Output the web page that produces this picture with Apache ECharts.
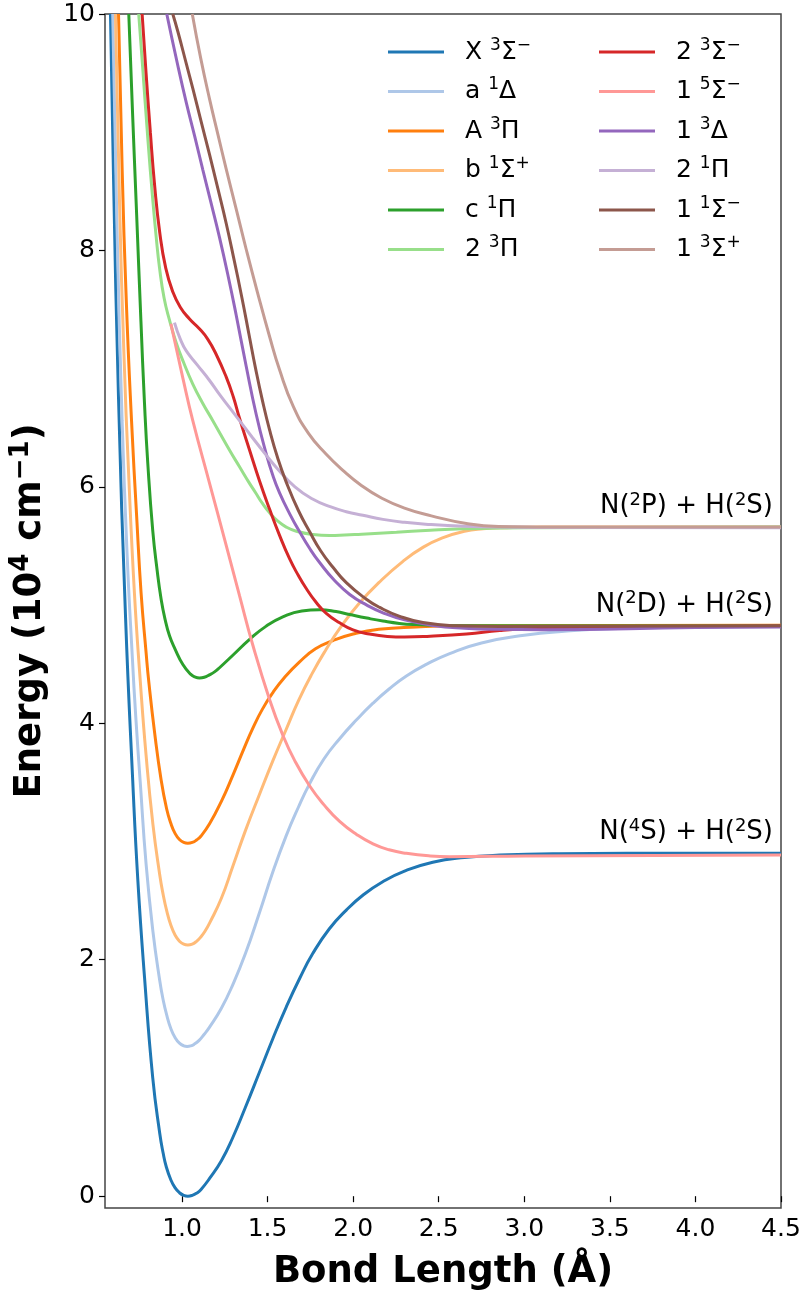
<!DOCTYPE html>
<html>
<head>
<meta charset="utf-8">
<title>NH potential energy curves</title>
<script src="https://cdn.jsdelivr.net/npm/echarts@6/dist/echarts.min.js"></script>
<style>
  html, body { margin: 0; padding: 0; background: #fff; }
  #chart { width: 803px; height: 1290px; }
</style>
</head>
<body>
<div id="chart"></div>
<script>
// [bond length (A), energy (1e4 cm-1)]
const stX3Sm = [[0.582,10],[0.60,8.6],[0.629,6.75],[0.67,4.9],[0.712,3.515],[0.742,2.67],[0.781,1.85],[0.829,1.0],[0.87,0.53],[0.89,0.363],[0.908,0.249],[0.935,0.137],[0.96,0.07],[0.985,0.029],[1.01,0.0066],[1.034,0],[1.06,0.007],[1.085,0.025],[1.11,0.055],[1.161,0.15],[1.23,0.30],[1.295,0.49],[1.37,0.75],[1.453,1.05],[1.53,1.33],[1.609,1.6],[1.69,1.85],[1.763,2.05],[1.86,2.26],[1.96,2.42],[2.06,2.55],[2.173,2.66],[2.3,2.75],[2.465,2.825],[2.65,2.865],[2.857,2.885],[3.2,2.897],[3.6,2.9],[4.5,2.9]]
const sta1D = [[0.595,10],[0.62,8.2],[0.65,6.56],[0.68,5.4],[0.71,4.55],[0.73,4.05],[0.756,3.5],[0.79,2.81],[0.83,2.24],[0.87,1.822],[0.89,1.659],[0.91,1.535],[0.935,1.417],[0.96,1.34],[0.985,1.294],[1.01,1.272],[1.03,1.267],[1.05,1.271],[1.07,1.284],[1.10,1.318],[1.13,1.37],[1.161,1.43],[1.23,1.59],[1.297,1.79],[1.37,2.05],[1.453,2.40],[1.53,2.74],[1.609,3.05],[1.68,3.29],[1.746,3.49],[1.83,3.70],[1.921,3.87],[2.02,4.03],[2.116,4.17],[2.21,4.29],[2.311,4.40],[2.43,4.50],[2.564,4.59],[2.75,4.68],[3.0,4.745],[3.25,4.78],[3.5,4.80],[4.0,4.815],[4.5,4.82]]
const stA3P = [[0.629,10],[0.65,8.7],[0.675,7.55],[0.705,6.56],[0.735,5.75],[0.761,5.1],[0.79,4.6],[0.806,4.35],[0.84,3.92],[0.878,3.52],[0.91,3.277],[0.935,3.152],[0.96,3.067],[0.985,3.017],[1.01,2.992],[1.034,2.985],[1.06,2.992],[1.085,3.013],[1.11,3.045],[1.161,3.15],[1.23,3.34],[1.297,3.56],[1.36,3.78],[1.414,3.96],[1.47,4.12],[1.531,4.26],[1.6,4.39],[1.687,4.52],[1.78,4.63],[1.882,4.70],[2.0,4.755],[2.15,4.795],[2.369,4.815],[2.6,4.825],[4.5,4.83]]
const stb1Sp = [[0.611,10],[0.635,8.4],[0.66,7.15],[0.69,6.05],[0.722,5.1],[0.756,4.36],[0.79,3.73],[0.83,3.145],[0.87,2.717],[0.89,2.55],[0.91,2.417],[0.935,2.292],[0.96,2.207],[0.985,2.157],[1.01,2.132],[1.034,2.125],[1.06,2.133],[1.085,2.156],[1.11,2.193],[1.135,2.243],[1.161,2.31],[1.23,2.52],[1.297,2.79],[1.37,3.09],[1.453,3.40],[1.53,3.68],[1.609,3.95],[1.68,4.19],[1.76,4.42],[1.84,4.62],[1.93,4.82],[2.038,5.02],[2.15,5.19],[2.291,5.37],[2.41,5.49],[2.525,5.57],[2.65,5.625],[2.759,5.645],[2.9,5.655],[3.1,5.66],[4.5,5.66]]
const stc1P = [[0.689,10],[0.71,9.2],[0.735,8.3],[0.76,7.4],[0.781,6.7],[0.80,6.2],[0.829,5.63],[0.855,5.29],[0.878,5.05],[0.90,4.886],[0.927,4.74],[0.96,4.626],[1.005,4.497],[1.05,4.416],[1.075,4.393],[1.102,4.384],[1.13,4.39],[1.16,4.41],[1.19,4.435],[1.219,4.47],[1.30,4.58],[1.395,4.71],[1.49,4.82],[1.589,4.9],[1.70,4.95],[1.804,4.96],[1.9,4.945],[1.98,4.92],[2.08,4.89],[2.174,4.865],[2.27,4.845],[2.37,4.835],[2.564,4.826],[4.5,4.82]]
const st23P = [[0.747,10],[0.77,9.55],[0.80,8.95],[0.829,8.43],[0.85,8.1],[0.868,7.86],[0.895,7.6],[0.927,7.41],[0.966,7.22],[1.01,7.05],[1.063,6.87],[1.12,6.71],[1.18,6.56],[1.278,6.31],[1.336,6.17],[1.39,6.04],[1.43,5.95],[1.47,5.86],[1.512,5.78],[1.56,5.71],[1.609,5.66],[1.668,5.625],[1.765,5.597],[1.863,5.588],[1.95,5.592],[2.05,5.60],[2.253,5.616],[2.45,5.633],[2.642,5.645],[3.0,5.655],[4.5,5.66]]
const st23Sm = [[0.767,10],[0.79,9.5],[0.815,9.0],[0.84,8.55],[0.87,8.15],[0.905,7.85],[0.946,7.65],[0.99,7.52],[1.044,7.42],[1.10,7.34],[1.15,7.25],[1.20,7.12],[1.258,6.93],[1.30,6.76],[1.336,6.58],[1.395,6.31],[1.453,6.05],[1.512,5.81],[1.57,5.59],[1.629,5.39],[1.68,5.25],[1.726,5.14],[1.78,5.03],[1.843,4.93],[1.921,4.85],[1.999,4.79],[2.096,4.755],[2.2,4.735],[2.3,4.73],[2.45,4.737],[2.662,4.756],[2.857,4.785],[3.032,4.80],[3.5,4.815],[4.5,4.82]]
const st15Sm = [[0.935,7.38],[1.005,6.92],[1.063,6.56],[1.161,6.03],[1.25,5.55],[1.336,5.08],[1.414,4.66],[1.512,4.2],[1.589,3.9],[1.66,3.68],[1.746,3.47],[1.83,3.31],[1.921,3.17],[2.02,3.06],[2.116,2.98],[2.21,2.93],[2.311,2.9],[2.45,2.878],[2.564,2.872],[3.0,2.878],[4.5,2.885]]
const st13D = [[0.911,10],[0.97,9.6],[1.025,9.25],[1.075,8.96],[1.122,8.68],[1.17,8.4],[1.219,8.11],[1.27,7.78],[1.317,7.45],[1.375,7.02],[1.434,6.61],[1.49,6.29],[1.53,6.1],[1.57,5.95],[1.63,5.77],[1.687,5.62],[1.75,5.47],[1.804,5.36],[1.89,5.21],[1.98,5.09],[2.08,5.0],[2.174,4.935],[2.3,4.875],[2.467,4.828],[2.65,4.805],[2.857,4.795],[3.1,4.792],[4.0,4.81],[4.5,4.815]]
const st21P = [[0.956,7.39],[0.99,7.25],[1.025,7.15],[1.09,7.03],[1.161,6.9],[1.22,6.78],[1.278,6.67],[1.336,6.56],[1.41,6.42],[1.48,6.29],[1.56,6.15],[1.66,6.0],[1.76,5.9],[1.87,5.83],[1.96,5.79],[2.057,5.76],[2.174,5.725],[2.3,5.7],[2.45,5.682],[2.65,5.667],[2.85,5.66],[3.3,5.656],[4.5,5.655]]
const st11Sm = [[0.946,10],[0.976,9.85],[1.025,9.58],[1.063,9.37],[1.11,9.1],[1.161,8.81],[1.21,8.52],[1.258,8.23],[1.30,7.95],[1.35,7.6],[1.39,7.3],[1.43,7.0],[1.47,6.73],[1.512,6.48],[1.56,6.24],[1.609,6.04],[1.68,5.8],[1.746,5.62],[1.81,5.46],[1.882,5.32],[1.96,5.19],[2.077,5.05],[2.155,4.98],[2.272,4.905],[2.408,4.852],[2.6,4.825],[2.857,4.818],[4.5,4.825]]
const st13Sp = [[1.06,10],[1.11,9.62],[1.161,9.28],[1.21,8.98],[1.258,8.69],[1.32,8.33],[1.375,8.01],[1.44,7.65],[1.512,7.27],[1.57,6.99],[1.65,6.68],[1.74,6.45],[1.84,6.28],[1.94,6.14],[2.05,6.01],[2.16,5.91],[2.3,5.82],[2.457,5.755],[2.662,5.69],[2.85,5.665],[3.3,5.66],[4.5,5.66]]

const stateData = [stX3Sm, sta1D, stA3P, stb1Sp, stc1P, st23P, st23Sm, st15Sm, st13D, st21P, st11Sm, st13Sp]
const stateNames = [
  'X {s|3}Σ{s|−}', 'a {s|1}Δ', 'A {s|3}Π', 'b {s|1}Σ{s|+}', 'c {s|1}Π', '2 {s|3}Π',
  '2 {s|3}Σ{s|−}', '1 {s|5}Σ{s|−}', '1 {s|3}Δ', '2 {s|1}Π', '1 {s|1}Σ{s|−}', '1 {s|3}Σ{s|+}'
]
const colors = ['#1f77b4', '#aec7e8', '#ff7f0e', '#ffbb78', '#2ca02c', '#98df8a',
  '#d62728', '#ff9896', '#9467bd', '#c5b0d5', '#8c564b', '#c49c94']

// dissociation limits
const limitY = [5.66, 4.825, 2.9]
const limitLabels = ['N({s|2}P) + H({s|2}S)', 'N({s|2}D) + H({s|2}S)', 'N({s|4}S) + H({s|2}S)']

const xTicks = [1.0, 1.5, 2.0, 2.5, 3.0, 3.5, 4.0, 4.5]
const yTicks = [0, 2, 4, 6, 8, 10]

const FONT = 'DejaVu Sans'
const supRich = { s: { fontSize: 17, lineHeight: 17, verticalAlign: 'top', fontFamily: FONT, color: '#000' } }

let chart = echarts.init(document.getElementById('chart'))

let series = stateData.map((d, i) => ({
  name: stateNames[i],
  type: 'line',
  data: d,
  smooth: 0.5,
  symbol: 'none',
  showSymbol: false,
  clip: true,
  lineStyle: { width: 3, color: colors[i] },
  itemStyle: { color: colors[i] }
}))

// text at the dissociation limits (one invisible line point each)
limitY.forEach((y, i) => {
  series.push({
    type: 'line',
    silent: true,
    clip: false,
    symbol: 'circle',
    symbolSize: 0,
    showSymbol: true,
    lineStyle: { width: 0 },
    itemStyle: { color: '#000' },
    data: [[4.5, y]],
    label: {
      show: true,
      formatter: limitLabels[i],
      position: 'top',
      distance: 6,
      align: 'right',
      offset: [-8, 0],
      fontFamily: FONT,
      fontSize: 26,
      lineHeight: 30,
      color: '#000',
      rich: { s: { fontSize: 18, lineHeight: 18, verticalAlign: 'top', fontFamily: FONT, color: '#000' } }
    }
  })
})

function legendOpt (left, names) {
  return {
    orient: 'vertical',
    left: left,
    top: 37,
    padding: 0,
    icon: 'rect',
    itemWidth: 56,
    itemHeight: 3,
    itemGap: 9.5,
    selectedMode: false,
    data: names,
    textStyle: {
      fontFamily: FONT,
      fontSize: 25,
      lineHeight: 30,
      color: '#000',
      padding: [0, 0, 0, 16],
      rich: supRich
    }
  }
}

let option = {
  backgroundColor: '#fff',
  animation: false,
  grid: {
    left: 105, right: 22, top: 14, bottom: 82,
    show: true,
    borderColor: '#444',
    borderWidth: 1.5,
    outerBoundsMode: 'none'
  },
  legend: [legendOpt(388, stateNames.slice(0, 6)), legendOpt(599, stateNames.slice(6))],
  xAxis: {
    type: 'value',
    min: 0.55,
    max: 4.5,
    name: 'Bond Length (Å)',
    nameLocation: 'middle',
    nameGap: 46,
    nameTextStyle: { fontFamily: FONT, fontSize: 37, fontWeight: 'bold', color: '#000' },
    splitLine: { show: false },
    axisLine: { show: false },
    axisTick: { show: true, length: 6, customValues: xTicks, lineStyle: { color: '#000', width: 1.2 } },
    axisLabel: {
      customValues: xTicks,
      margin: 9,
      fontFamily: FONT,
      fontSize: 25,
      color: '#000',
      formatter: v => v.toFixed(1)
    }
  },
  yAxis: {
    type: 'value',
    min: -0.1,
    max: 10,
    name: 'Energy (10{s|4} cm{s|−1})',
    nameLocation: 'middle',
    nameGap: 47,
    nameTextStyle: {
      fontFamily: FONT, fontSize: 37, fontWeight: 'bold', color: '#000', lineHeight: 44,
      rich: { s: { fontSize: 26, lineHeight: 26, fontWeight: 'bold', verticalAlign: 'top', fontFamily: FONT, color: '#000' } }
    },
    splitLine: { show: false },
    axisLine: { show: false },
    axisTick: { show: true, length: 6, customValues: yTicks, lineStyle: { color: '#000', width: 1.2 } },
    axisLabel: {
      customValues: yTicks,
      margin: 10,
      fontFamily: FONT,
      fontSize: 25,
      color: '#000'
    }
  },
  series: series
}

chart.setOption(option)
</script>
</body>
</html>
